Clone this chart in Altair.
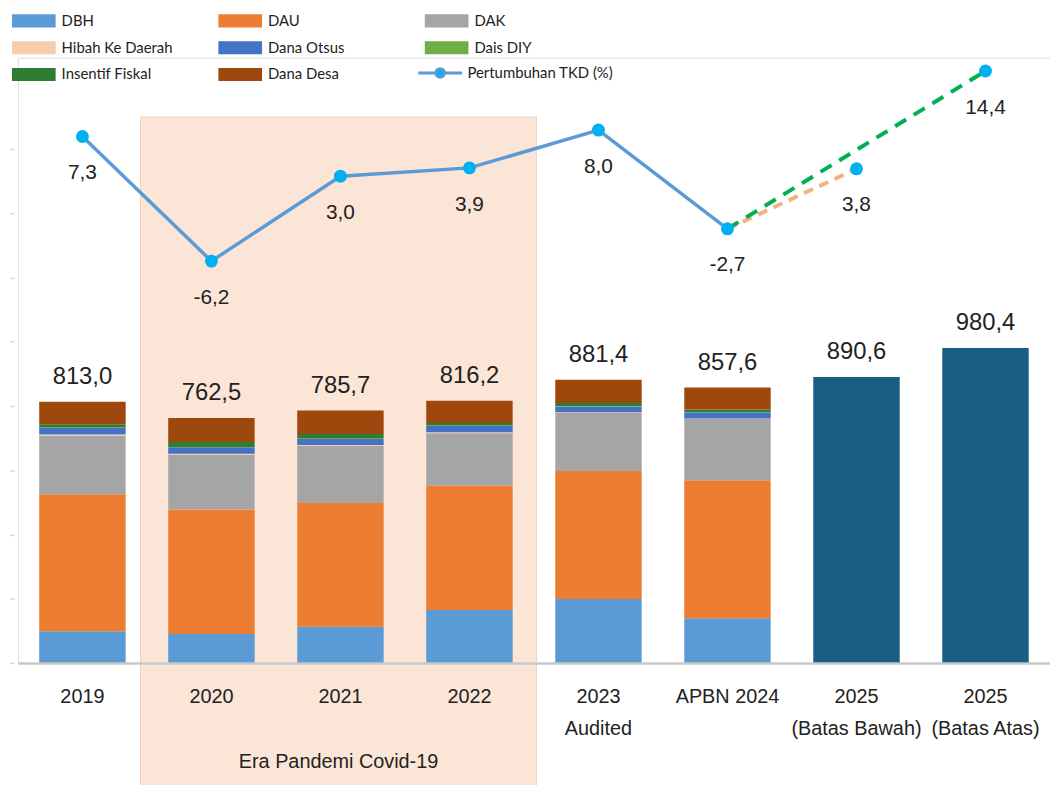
import altair as alt
import pandas as pd

# ---------------- data ----------------
categories = ["2019", "2020", "2021", "2022", "2023\nAudited", "APBN 2024",
              "2025\n(Batas Bawah)", "2025\n(Batas Atas)"]
components = ["DBH", "DAU", "DAK", "Hibah Ke Daerah", "Dana Otsus",
              "Dais DIY", "Insentif Fiskal", "Dana Desa"]
comp_colors = ["#5B9BD5", "#ED7D31", "#A5A5A5", "#F8CBAD", "#4472C4",
               "#70AD47", "#2E7D32", "#9E480E"]

dbh = [99, 90, 113, 165, 199, 139]
dau = [426, 387.5, 384.7, 387, 398.4, 430]
dak = [183, 171, 178, 163, 183, 192]
hibah = [3, 3, 3, 3, 1, 0.5]
otsus = [21, 20, 19, 20, 17, 18]
dais = [1.2, 1.3, 1.3, 1.3, 1.4, 1.4]
insentif = [10, 15, 14, 8, 10, 8]
dana_desa = [70, 75, 73, 69, 72, 69]

totals = [813.0, 762.5, 785.7, 816.2, 881.4, 857.6, 890.6, 980.4]
growth = [7.3, -6.2, 3.0, 3.9, 8.0, -2.7, 3.8, 14.4]

series_name = "Pertumbuhan TKD (%)"
era_text = "Era Pandemi Covid-19"
era_span = [0.95, 4.02]          # band units (2020 .. 2022)

def fmt(v):
    return f"{v:.1f}".replace(".", ",")

# ---------------- tables ----------------
comp_values = [dbh, dau, dak, hibah, otsus, dais, insentif, dana_desa]
rows = []
for ci, (comp, vals) in enumerate(zip(components, comp_values)):
    for yi, v in enumerate(vals):
        rows.append({"cat": categories[yi], "comp": comp, "ord": ci, "value": v})
df_stack = pd.DataFrame(rows)
df_proj = pd.DataFrame({"cat": categories[6:], "value": totals[6:]})
df_tot = pd.DataFrame({"cat": categories, "value": totals,
                       "label": [fmt(v) for v in totals]})
df_line = pd.DataFrame({"cat": categories[:6], "g": growth[:6], "series": series_name})
df_low = pd.DataFrame({"cat": [categories[5], categories[6]], "g": [growth[5], growth[6]]})
df_high = pd.DataFrame({"cat": [categories[5], categories[7]], "g": [growth[5], growth[7]]})
df_pts = pd.DataFrame({"cat": categories, "g": growth, "label": [fmt(v) for v in growth]})
df_bg = pd.DataFrame({"x0": [era_span[0]], "x1": [era_span[1]], "y0": [1700], "y1": [-400]})
df_era = pd.DataFrame({"x": [(era_span[0] + era_span[1]) / 2], "y": [-327], "t": [era_text]})

FONT = "Liberation Sans, Arial, sans-serif"
LEG = "Lato, Noto Sans, sans-serif"

bar_scale = alt.Scale(domain=[0, 1885], nice=False, zero=False)
line_scale = alt.Scale(domain=[-49.74, 15.85], nice=False, zero=False)
band = alt.Scale(domain=categories, paddingInner=0.33, paddingOuter=0.165)

x_axis = alt.Axis(title=None, labelFont=FONT, labelFontSize=20, labelColor="#222222",
                  labelPadding=24, labelLineHeight=32.5, ticks=False, labelAngle=0,
                  domainColor="#C8C8C8", domainWidth=2.5, zindex=1, grid=False,
                  labelExpr="split(datum.label, '\\n')")
x_main = alt.X("cat:N", sort=categories, scale=band, axis=x_axis)
x_noaxis = alt.X("cat:N", sort=categories, scale=band, axis=None)

# ---------------- background (pandemic era) ----------------
xq = alt.Scale(domain=[0, 8], nice=False, zero=False)
bg = alt.Chart(df_bg).mark_rect(fill="#FBE5D6", stroke="#EDD2BF", strokeWidth=1, clip=False).encode(
    x=alt.X("x0:Q", scale=xq, axis=None), x2="x1:Q",
    y=alt.Y("y0:Q", scale=bar_scale, axis=None), y2="y1:Q")
era = alt.Chart(df_era).mark_text(font=FONT, fontSize=20, color="#222222",
                                  baseline="alphabetic", clip=False).encode(
    x=alt.X("x:Q", scale=xq, axis=None),
    y=alt.Y("y:Q", scale=bar_scale, axis=None), text="t:N")
layer_bg = alt.layer(bg, era)

# ---------------- bars ----------------
leg_rect = "M-2,-0.6H2V0.6H-2Z"
stack = alt.Chart(df_stack).mark_bar().encode(
    x=x_main,
    y=alt.Y("value:Q", stack="zero", scale=bar_scale,
            axis=alt.Axis(title=None, labels=False, domain=False, grid=False,
                          values=[0, 200, 400, 600, 800, 1000, 1200, 1400, 1600],
                          tickSize=4, offset=4, tickColor="#D6D6D6", tickWidth=1.5)),
    color=alt.Color("comp:N", scale=alt.Scale(domain=components, range=comp_colors),
                    legend=alt.Legend(title=None, orient="none", legendX=5, legendY=-48,
                                      direction="horizontal",
                                      columns=3, gridAlign="all", columnPadding=46,
                                      rowPadding=8, symbolType=leg_rect, symbolSize=484,
                                      symbolStrokeWidth=0, labelFont=LEG, labelFontSize=15,
                                      labelColor="#222222", labelOffset=17, padding=0,
                                      labelLimit=300)),
    order=alt.Order("ord:Q", sort="ascending"))
proj = alt.Chart(df_proj).mark_bar(color="#185F83").encode(
    x=x_main, y=alt.Y("value:Q", scale=bar_scale))
tot_lbl = alt.Chart(df_tot).mark_text(font=FONT, fontSize=24, color="#222222",
                                      baseline="alphabetic", dy=-18).encode(
    x=x_main, y=alt.Y("value:Q", scale=bar_scale), text="label:N")
layer_bars = alt.layer(stack, proj, tot_lbl)

# ---------------- growth line ----------------
leg_line = "M-1,0H-0.2A0.2,0.2 0 1,1 0.2,0A0.2,0.2 0 1,1 -0.2,0M0.2,0H1"
line = alt.Chart(df_line).mark_line(strokeWidth=3.5).encode(
    x=x_noaxis, y=alt.Y("g:Q", scale=line_scale, axis=None),
    stroke=alt.Stroke("series:N", scale=alt.Scale(domain=[series_name], range=["#5B9BD5"]),
                      legend=alt.Legend(title=None, orient="none", legendX=402, legendY=-8,
                                        symbolType=leg_line, symbolSize=1936,
                                        symbolStrokeWidth=3, symbolFillColor="#00B0F0",
                                        labelFont=LEG, labelFontSize=15, labelColor="#222222",
                                        labelOffset=4, padding=0, labelLimit=300)))
low = alt.Chart(df_low).mark_line(strokeWidth=4, color="#F4B183", strokeDash=[10, 7]).encode(
    x=x_noaxis, y=alt.Y("g:Q", scale=line_scale, axis=None))
high = alt.Chart(df_high).mark_line(strokeWidth=4, color="#00B050", strokeDash=[13, 9]).encode(
    x=x_noaxis, y=alt.Y("g:Q", scale=line_scale, axis=None))
pts = alt.Chart(df_pts).mark_circle(size=170, color="#00B0F0", opacity=1).encode(
    x=x_noaxis, y=alt.Y("g:Q", scale=line_scale, axis=None))
g_lbl = alt.Chart(df_pts).mark_text(font=FONT, fontSize=21, color="#222222",
                                    baseline="middle", dy=37).encode(
    x=x_noaxis, y=alt.Y("g:Q", scale=line_scale, axis=None), text="label:N")
layer_line = alt.layer(line, low, high, pts, g_lbl)

chart = alt.layer(layer_bg, layer_bars, layer_line).resolve_scale(
    x="independent", y="independent", color="independent", stroke="independent"
).properties(
    width=1040, height=610,
    padding={"left": 10, "top": 47, "right": 0, "bottom": 120},
    autosize=alt.AutoSizeParams(type="none"),
).configure_view(stroke=None, strokeWidth=0).configure(background="white")

chart.save("out.html", embed_options={"renderer": "svg", "actions": False})
